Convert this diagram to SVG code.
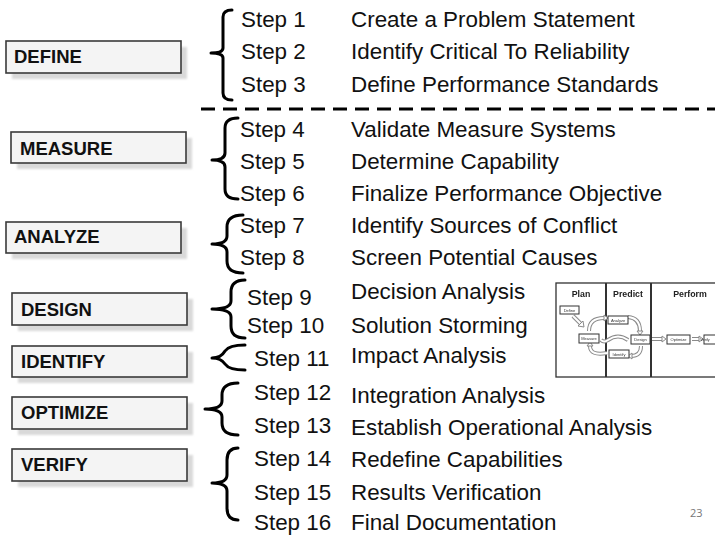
<svg xmlns="http://www.w3.org/2000/svg" width="715" height="537" viewBox="0 0 715 537">
  <style>
    .phase rect.box { fill: #f4f4f4; stroke: #3a3a3a; stroke-width: 1.6; }
    .phase rect.shadow { fill: #d9d9d9; filter: url(#soft); }
    .phase text { font-family: "Liberation Sans", Arial, sans-serif; font-weight: bold; font-size: 18.5px; fill: #111; }
    .step { font-family: "Liberation Sans", Arial, sans-serif; font-size: 22.4px; fill: #111; }
    .brace { fill: none; stroke: #000; stroke-width: 3; stroke-linecap: round; stroke-linejoin: round; }
    .mini rect.frame { fill: #fff; stroke: #333; stroke-width: 1.3; }
    .mini rect.node { fill: #fff; stroke: #333; stroke-width: 1; }
    .mini text.title { font-family: "Liberation Sans", Arial, sans-serif; font-weight: bold; font-size: 8.8px; fill: #222; text-anchor: middle; }
    .mini text.lbl { font-family: "Liberation Sans", Arial, sans-serif; font-size: 4px; fill: #333; text-anchor: middle; }
    .mini .flow-o { fill: none; stroke: #8a8a8a; stroke-width: 4; }
    .mini .flow-i { fill: none; stroke: #fff; stroke-width: 2; }
    .mini .head { fill: #fff; stroke: #8a8a8a; stroke-width: 1; }
  </style>
  <defs>
    <filter id="soft" x="-10%" y="-20%" width="120%" height="140%">
      <feGaussianBlur stdDeviation="1.2"/>
    </filter>
    <filter id="haze" x="-5%" y="-5%" width="110%" height="110%">
      <feGaussianBlur stdDeviation="0.45"/>
    </filter>
  </defs>

  <rect width="715" height="537" fill="#fff"/>

  <!-- phase boxes -->
  <g id="define" class="phase">
    <rect class="shadow" x="12" y="47" width="175" height="32"/>
    <rect class="box" x="6" y="41" width="175" height="32"/>
    <text x="14" y="63">DEFINE</text>
  </g>
  <g id="measure" class="phase">
    <rect class="shadow" x="17" y="138" width="175" height="31"/>
    <rect class="box" x="11" y="132" width="175" height="31"/>
    <text x="20" y="155">MEASURE</text>
  </g>
  <g id="analyze" class="phase">
    <rect class="shadow" x="12" y="228" width="175" height="31"/>
    <rect class="box" x="6" y="222" width="175" height="31"/>
    <text x="14" y="243">ANALYZE</text>
  </g>
  <g id="design" class="phase">
    <rect class="shadow" x="18" y="299" width="175" height="32"/>
    <rect class="box" x="12" y="293" width="175" height="32"/>
    <text x="21" y="316">DESIGN</text>
  </g>
  <g id="identify" class="phase">
    <rect class="shadow" x="18" y="352" width="175" height="31"/>
    <rect class="box" x="12" y="346" width="175" height="31"/>
    <text x="21" y="368">IDENTIFY</text>
  </g>
  <g id="optimize" class="phase">
    <rect class="shadow" x="18" y="403" width="175" height="32"/>
    <rect class="box" x="12" y="397" width="175" height="32"/>
    <text x="21" y="419">OPTIMIZE</text>
  </g>
  <g id="verify" class="phase">
    <rect class="shadow" x="18" y="455" width="175" height="32"/>
    <rect class="box" x="12" y="449" width="175" height="32"/>
    <text x="21" y="471">VERIFY</text>
  </g>

  <!-- braces linking phases to their steps -->
  <g id="connectors">
    <path class="brace" d="M232,10 Q223,10 223,17 L223,48 Q223,53 211,53 Q223,53 223,58 L223,93 Q223,100 232,100"/>
    <path class="brace" d="M238,118 Q225,118 225,128 L225,153 Q225,160 212,160 Q225,160 225,167 L225,189 Q225,199 238,199"/>
    <path class="brace" d="M243,215 Q227,215 227,227 L227,236 Q227,244 212,244 Q227,244 227,252 L227,261 Q227,273 243,273"/>
    <path class="brace" d="M245,280 Q231,280 231,292 L231,301 Q231,309 212,309 Q231,309 231,317 L231,326 Q231,338 245,338"/>
    <path class="brace" d="M245,345 Q229,345 225,351 Q221,358 212,358 Q221,358 225,364 Q229,370 245,370"/>
    <path class="brace" d="M238,383 Q222,383 222,395 L222,401 Q222,409 205,409 Q222,409 222,417 L222,423 Q222,435 238,435"/>
    <path class="brace" d="M238,448 Q227,448 227,460 L227,475 Q227,483 212,483 Q227,483 227,491 L227,508 Q227,520 238,520"/>
    <!-- divider between DEFINE and the rest -->
    <line x1="201" y1="109" x2="715" y2="109" stroke="#000" stroke-width="3" stroke-dasharray="14 8"/>
  </g>

  <!-- step numbers and descriptions -->
  <g id="steps">
    <text class="step" x="241" y="27">Step 1</text>
    <text class="step" x="351" y="27">Create a Problem Statement</text>
    <text class="step" x="241" y="59">Step 2</text>
    <text class="step" x="351" y="59">Identify Critical To Reliability</text>
    <text class="step" x="241" y="92">Step 3</text>
    <text class="step" x="351" y="92">Define Performance Standards</text>

    <text class="step" x="240" y="137">Step 4</text>
    <text class="step" x="351" y="137">Validate Measure Systems</text>
    <text class="step" x="240" y="169">Step 5</text>
    <text class="step" x="351" y="169">Determine Capability</text>
    <text class="step" x="240" y="201">Step 6</text>
    <text class="step" x="351" y="201">Finalize Performance Objective</text>

    <text class="step" x="240" y="233">Step 7</text>
    <text class="step" x="351" y="233">Identify Sources of Conflict</text>
    <text class="step" x="240" y="265">Step 8</text>
    <text class="step" x="351" y="265">Screen Potential Causes</text>

    <text class="step" x="247" y="305">Step 9</text>
    <text class="step" x="351" y="299">Decision Analysis</text>
    <text class="step" x="247" y="333">Step 10</text>
    <text class="step" x="351" y="333">Solution Storming</text>

    <text class="step" x="254" y="366">Step 11</text>
    <text class="step" x="351" y="363">Impact Analysis</text>

    <text class="step" x="254" y="400">Step 12</text>
    <text class="step" x="351" y="403">Integration Analysis</text>
    <text class="step" x="254" y="433">Step 13</text>
    <text class="step" x="351" y="435">Establish Operational Analysis</text>

    <text class="step" x="254" y="466">Step 14</text>
    <text class="step" x="351" y="467">Redefine Capabilities</text>
    <text class="step" x="254" y="500">Step 15</text>
    <text class="step" x="351" y="500">Results Verification</text>
    <text class="step" x="254" y="530">Step 16</text>
    <text class="step" x="351" y="530">Final Documentation</text>
  </g>

  <!-- small Plan / Predict / Perform overview -->
  <g id="overview" class="mini" filter="url(#haze)">
    <rect class="frame" x="556" y="283" width="170" height="94"/>
    <line x1="606" y1="283" x2="606" y2="377" stroke="#333" stroke-width="2"/>
    <line x1="651" y1="283" x2="651" y2="377" stroke="#333" stroke-width="2"/>
    <text class="title" x="581" y="297">Plan</text>
    <text class="title" x="628" y="297">Predict</text>
    <text class="title" x="690" y="297">Perform</text>

    <!-- flow arrows -->
    <path class="flow-o" d="M573,316 L581,324"/>
    <path class="flow-i" d="M573,316 L581,324"/>
    <path class="flow-o" d="M589,331 Q589,318 604,318"/>
    <path class="flow-i" d="M589,331 Q589,318 604,318"/>
    <path class="flow-o" d="M628,317 Q640,318 640,331"/>
    <path class="flow-i" d="M628,317 Q640,318 640,331"/>
    <path class="flow-o" d="M641,346 Q641,356 631,356"/>
    <path class="flow-i" d="M641,346 Q641,356 631,356"/>
    <path class="flow-o" d="M607,353 Q590,356 590,346"/>
    <path class="flow-i" d="M607,353 Q590,356 590,346"/>
    <path class="flow-o" d="M628,340 Q618,333 608,340 Q604,343 601,340"/>
    <path class="flow-i" d="M628,340 Q618,333 608,340 Q604,343 601,340"/>
    <path class="flow-o" d="M652,339 L662,339"/>
    <path class="flow-i" d="M652,339 L662,339"/>
    <path class="flow-o" d="M692,339 L699,339"/>
    <path class="flow-i" d="M692,339 L699,339"/>
    <polygon class="head" points="578,326 584,327 583,321"/>
    <polygon class="head" points="604,315 608,318 604,321"/>
    <polygon class="head" points="637,331 643,331 640,335"/>
    <polygon class="head" points="632,353 628,356 632,359"/>
    <polygon class="head" points="587,346 593,346 590,342"/>
    <polygon class="head" points="662,336 666,339 662,342"/>
    <polygon class="head" points="699,336 703,339 699,342"/>

    <rect class="node" x="560" y="306" width="19" height="8"/>
    <text class="lbl" x="569.5" y="311.5">Define</text>
    <rect class="node" x="579" y="334" width="20" height="9"/>
    <text class="lbl" x="589" y="340">Measure</text>
    <rect class="node" x="608" y="316" width="20" height="8"/>
    <text class="lbl" x="618" y="321.5">Analyze</text>
    <rect class="node" x="631" y="335" width="19" height="9"/>
    <text class="lbl" x="640.5" y="341">Design</text>
    <rect class="node" x="609" y="350" width="20" height="8"/>
    <text class="lbl" x="619" y="355.5">Identify</text>
    <rect class="node" x="667" y="335" width="23" height="9"/>
    <text class="lbl" x="678.5" y="341">Optimize</text>
    <rect class="node" x="704" y="335" width="20" height="9"/>
    <text class="lbl" x="705" y="341" text-anchor="start" textLength="9.5" lengthAdjust="spacingAndGlyphs">Verify</text>
  </g>

  <!-- page number -->
  <text x="690" y="517" font-family="'Open Sans', 'Liberation Sans', sans-serif" font-size="11" fill="#777">23</text>
</svg>
